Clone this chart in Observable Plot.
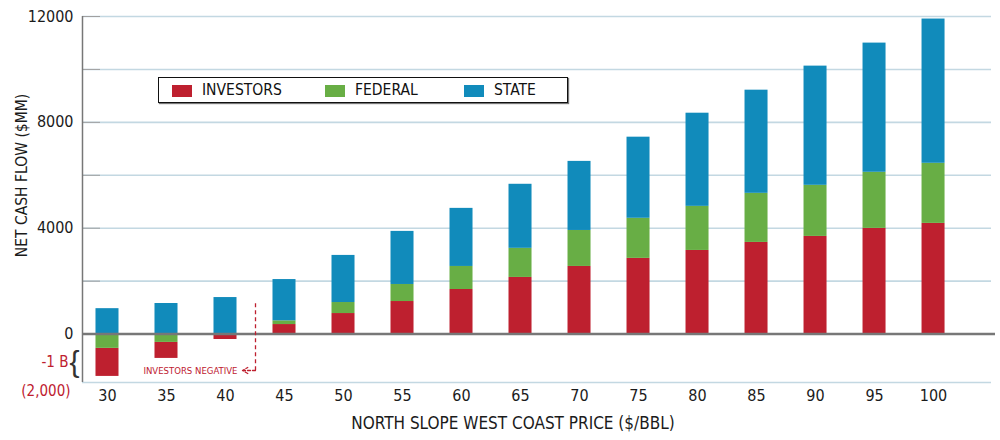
<!DOCTYPE html>
<html>
<head>
<meta charset="utf-8">
<script src="https://cdn.jsdelivr.net/npm/d3@7"></script>
<script src="https://cdn.jsdelivr.net/npm/@observablehq/plot@0.6"></script>
<style>
  body { margin: 0; background: #fff; }
  #wrap { position: relative; width: 1000px; height: 440px;
    font-family: "Liberation Sans Narrow", "DejaVu Sans Condensed", Roboto, sans-serif; }
  #legend { position: absolute; left: 158px; top: 77px; width: 408px; height: 24px;
    border: 1px solid #111; background: #fff; box-shadow: 1px 1px 1px #777; }
  .sw { position: absolute; top: 7px; width: 20px; height: 12px; }
  .lt { position: absolute; top: 2px; font-size: 15.5px; color: #111; line-height: 20px; }
</style>
</head>
<body>
<div id="wrap"></div>
<script>
const prices = ["30","35","40","45","50","55","60","65","70","75","80","85","90","95","100"];
const series = ["Investors", "Federal", "State"];
const seriesLabels = ["INVESTORS", "FEDERAL", "STATE"];
const colors = ["#BE202F", "#68AE45", "#118BBB"];
const investors = [-1060, -605, -165, 360, 776, 1230, 1684, 2140, 2555, 2860, 3160, 3463, 3690, 3993, 4182];
const federal   = [-540, -315, -40, 140, 416, 644, 871, 1100, 1360, 1515, 1666, 1855, 1931, 2120, 2271];
const state     = [960, 1155, 1380, 1560, 1780, 2006, 2195, 2420, 2610, 3065, 3520, 3898, 4504, 4882, 5451];
const yLabelTicks = [0, 4000, 8000, 12000];
const gridTicks = [2000, 4000, 6000, 8000, 10000, 12000];
const yMin = -1830, yMax = 12000;
const annotNegativeTop = 1150, annotNegativeY = -1376;

const rows = [];
prices.forEach((p, i) => {
  rows.push({price: p, series: "Investors", value: investors[i]});
  rows.push({price: p, series: "Federal", value: federal[i]});
  rows.push({price: p, series: "State", value: state[i]});
});
const pos = rows.filter(d => d.value >= 0);
const neg = rows.filter(d => d.value < 0);

const red = colors[0];
const font = '"Liberation Sans Narrow", "DejaVu Sans Condensed", Roboto, sans-serif';

const chart = Plot.plot({
  width: 1000, height: 440,
  marginTop: 16, marginBottom: 58, marginLeft: 82, marginRight: 9,
  style: {fontFamily: font, fontSize: "16px", color: "#1b1b1b", background: "transparent"},
  x: {domain: prices, paddingInner: 0.61, paddingOuter: 0.508, align: 0.225, round: false, label: null},
  y: {domain: [yMin, yMax], label: null},
  color: {domain: series, range: colors},
  marks: [
    Plot.gridY({ticks: gridTicks, stroke: "#c3d8e2", strokeOpacity: 1, strokeWidth: 1.6}),
    Plot.ruleY([yMin], {stroke: "#c3d8e2", strokeWidth: 1.6}),
    Plot.axisY({ticks: gridTicks, tickSize: -18, stroke: "#a0a0a0", tickFormat: () => "", label: null}),
    Plot.axisY({ticks: yLabelTicks, tickSize: 0, tickPadding: 9, label: null, fontSize: 16, tickFormat: d => String(d)}),
    Plot.axisX({tickSize: 0, tickPadding: 7, label: null, fontSize: 16}),
    Plot.barY(pos, Plot.stackY({x: "price", y: "value", fill: "series", order: series})),
    Plot.barY(neg, Plot.stackY({x: "price", y: "value", fill: "series", order: [...series].reverse()})),
    Plot.ruleY([0], {stroke: "#777", strokeWidth: 2.5, insetRight: -4}),
    Plot.ruleX([prices[0]], {y1: yMin, y2: yMax, dx: -25, stroke: "#777", strokeWidth: 1.5}),
    // annotations
    Plot.text(["-1 B"], {y: () => federal[0] + investors[0] / 2, frameAnchor: "left", dx: -14, textAnchor: "end", fill: red, fontSize: 15}),
    Plot.text(["{"], {y: () => federal[0] + investors[0] / 2, frameAnchor: "left", dx: -3, textAnchor: "end", fill: "#333", fontSize: 30, fontFamily: "Liberation Sans"}),
    Plot.text(["(2,000)"], {frameAnchor: "bottom-left", dx: -12, dy: 13, textAnchor: "end", fill: red, fontSize: 15}),
    Plot.text(["INVESTORS NEGATIVE"], {x: () => prices[2], y: () => annotNegativeY, dx: 12, textAnchor: "end", fill: red, fontSize: 9.5}),
    Plot.ruleX([prices[2]], {y1: annotNegativeTop, y2: annotNegativeY, dx: 30, stroke: red, strokeWidth: 1.3, strokeDasharray: "4,3"}),
    Plot.arrow([0], {x1: () => prices[3], x2: () => prices[2], y1: () => annotNegativeY, y2: () => annotNegativeY,
      insetStart: 29, insetEnd: 17, headLength: 7, stroke: red, strokeWidth: 1.3, strokeDasharray: "3,2"}),
    Plot.text(["NET CASH FLOW ($MM)"], {frameAnchor: "left", textAnchor: "middle", rotate: -90, dx: -60, dy: -24, fontSize: 15.5, fill: "#1b1b1b"}),
    Plot.text(["NORTH SLOPE WEST COAST PRICE ($/BBL)"], {frameAnchor: "bottom", textAnchor: "middle", dx: -24, dy: 46, fontSize: 17, fill: "#1b1b1b"})
  ]
});

const wrap = document.getElementById("wrap");
wrap.appendChild(chart);

const legend = document.createElement("div");
legend.id = "legend";
const swLeft = [13, 166, 305];
series.forEach((s, i) => {
  const sw = document.createElement("div");
  sw.className = "sw";
  sw.style.left = swLeft[i] + "px";
  sw.style.background = colors[i];
  legend.appendChild(sw);
  const t = document.createElement("div");
  t.className = "lt";
  t.style.left = (swLeft[i] + 30) + "px";
  t.textContent = seriesLabels[i];
  legend.appendChild(t);
});
wrap.appendChild(legend);
</script>
</body>
</html>
